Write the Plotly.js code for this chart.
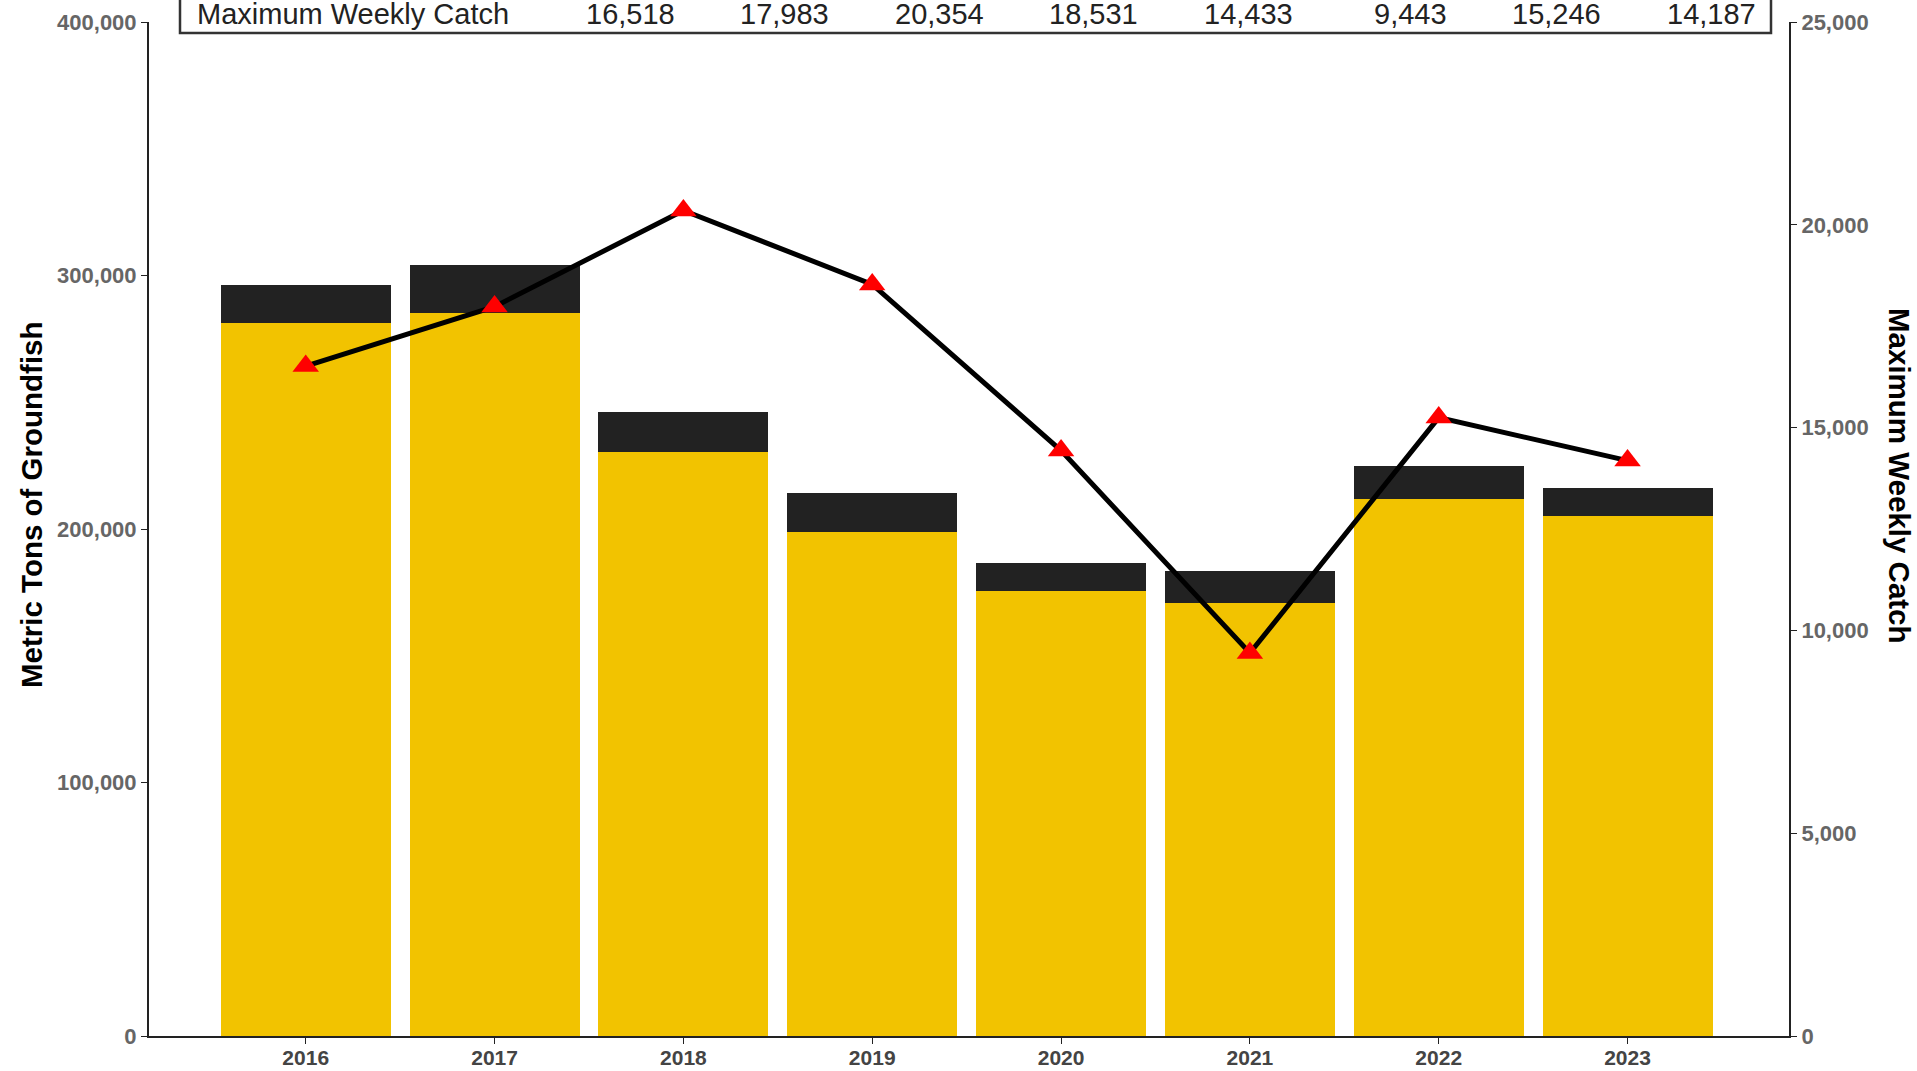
<!DOCTYPE html>
<html>
<head>
<meta charset="utf-8">
<script src="https://cdn.plot.ly/plotly-3.0.1.min.js"></script>
<style>
  html, body { margin: 0; padding: 0; background: #fff; }
  #chart { width: 1917px; height: 1071px; }
</style>
</head>
<body>
<div id="chart"></div>
<script>
var years = ['2016', '2017', '2018', '2019', '2020', '2021', '2022', '2023'];

// metric tons, lower (yellow) and upper (dark) part of each bar
var yellowTons = [281300, 285200, 230200, 198800, 175600, 170800, 211800, 205100];
var darkTons = [15000, 18800, 15900, 15400, 11100, 12600, 13000, 11100];

// maximum weekly catch, right axis
var maxWeekly = [16518, 17983, 20354, 18531, 14433, 9443, 15246, 14187];

var FONT = 'Liberation Sans, Arial, sans-serif';

// plot area in pixels, used to place the table text
var plotLeft = 149, plotW = 1640, plotTop = 22, plotH = 1014;
function px2x(px) { return (px - plotLeft) / plotW; }
function px2y(py) { return (plotTop + plotH - py) / plotH; }

var yellowBars = {
  x: years,
  y: yellowTons,
  type: 'bar',
  marker: {color: '#F2C300'},
  width: 0.9,
  hoverinfo: 'skip'
};

var darkBars = {
  x: years,
  y: darkTons,
  type: 'bar',
  marker: {color: '#222222'},
  width: 0.9,
  hoverinfo: 'skip'
};

var weeklyLine = {
  x: years,
  y: maxWeekly,
  yaxis: 'y2',
  type: 'scatter',
  mode: 'lines+markers',
  line: {color: '#000000', width: 5},
  marker: {symbol: 'triangle-up', size: 23, color: '#FF0000'},
  hoverinfo: 'skip'
};

var data = [yellowBars, darkBars, weeklyLine];

// table row across the top
var annotations = [{
  xref: 'paper', yref: 'paper',
  x: px2x(195), y: px2y(14),
  xanchor: 'left', yanchor: 'middle',
  text: 'Maximum Weekly Catch',
  showarrow: false,
  font: {family: FONT, size: 29, color: '#222'}
}];
for (var i = 0; i < maxWeekly.length; i++) {
  annotations.push({
    xref: 'paper', yref: 'paper',
    x: px2x(677 + i * 154.4), y: px2y(14),
    xanchor: 'right', yanchor: 'middle',
    text: maxWeekly[i].toLocaleString('en-US'),
    showarrow: false,
    font: {family: FONT, size: 29, color: '#222'}
  });
}

// axis titles
annotations.push({
  xref: 'paper', yref: 'paper',
  x: px2x(31), y: px2y(505),
  xanchor: 'center', yanchor: 'middle',
  text: 'Metric Tons of Groundfish',
  textangle: -90,
  showarrow: false,
  font: {family: FONT, size: 29.5, color: '#000', weight: 'bold'}
});
annotations.push({
  xref: 'paper', yref: 'paper',
  x: px2x(1899), y: px2y(476),
  xanchor: 'center', yanchor: 'middle',
  text: 'Maximum Weekly Catch',
  textangle: 90,
  showarrow: false,
  font: {family: FONT, size: 29.5, color: '#000', weight: 'bold'}
});

var layout = {
  width: 1917,
  height: 1071,
  margin: {l: 149, r: 128, t: 22, b: 35},
  paper_bgcolor: '#ffffff',
  plot_bgcolor: '#ffffff',
  barmode: 'stack',
  showlegend: false,
  font: {family: FONT},
  xaxis: {
    type: 'category',
    range: [-0.83, 7.855],
    showline: true,
    linecolor: '#222',
    linewidth: 2,
    ticks: 'outside',
    ticklen: 6,
    tickcolor: '#222',
    showgrid: false,
    zeroline: false,
    ticklabelstandoff: -4,
    tickfont: {family: FONT, size: 21, color: '#444', weight: 'bold'}
  },
  yaxis: {
    range: [0, 400000],
    dtick: 100000,
    tickformat: ',d',
    showline: true,
    linecolor: '#222',
    linewidth: 2,
    ticks: 'outside',
    ticklen: 6,
    tickcolor: '#222',
    showgrid: false,
    zeroline: false,
    tickfont: {family: FONT, size: 22, color: '#666', weight: 'bold'}
  },
  yaxis2: {
    overlaying: 'y',
    side: 'right',
    range: [0, 25000],
    dtick: 5000,
    tickformat: ',d',
    showline: true,
    linecolor: '#222',
    linewidth: 2,
    ticks: 'outside',
    ticklen: 6,
    tickcolor: '#222',
    showgrid: false,
    zeroline: false,
    tickfont: {family: FONT, size: 22, color: '#666', weight: 'bold'}
  },
  shapes: [{
    type: 'rect',
    xref: 'paper', yref: 'paper',
    x0: px2x(180), x1: px2x(1771),
    y0: px2y(33), y1: px2y(-20),
    line: {color: '#333', width: 2.5},
    fillcolor: 'rgba(0,0,0,0)'
  }],
  annotations: annotations
};

Plotly.newPlot('chart', data, layout, {displayModeBar: false, staticPlot: true});
</script>
</body>
</html>
